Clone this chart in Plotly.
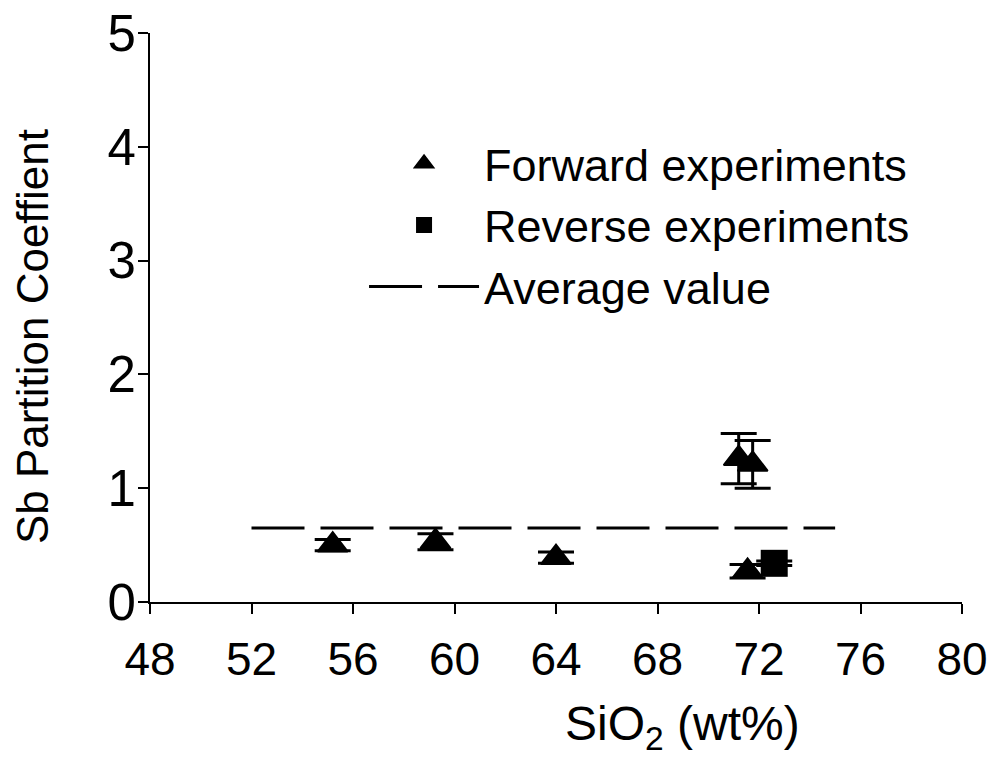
import plotly.graph_objects as go

# Sb partition coefficient vs. melt SiO2 content
forward_sio2 = [55.2, 59.25, 64.0, 71.2, 71.75, 71.55]
forward_d = [0.50, 0.53, 0.39, 1.26, 1.21, 0.27]
forward_err = [0.05, 0.07, 0.05, 0.22, 0.21, 0.06]

reverse_sio2 = [72.6]
reverse_d = [0.34]
reverse_err = [0.02]

avg_sio2 = [52, 75]
avg_d = [0.65, 0.65]

x_ticks = [48, 52, 56, 60, 64, 68, 72, 76, 80]
y_ticks = [0, 1, 2, 3, 4, 5]

FONT = "Liberation Sans, Arial, sans-serif"

fig = go.Figure()

fig.add_trace(go.Scatter(
    x=avg_sio2, y=avg_d, mode="lines", name="Average value",
    line=dict(color="black", width=3, dash="53px,16px"),
    legendrank=3,
))

fig.add_trace(go.Scatter(
    x=forward_sio2, y=forward_d, mode="markers", name="Forward experiments",
    marker=dict(symbol="triangle-up", size=26, color="black",
                line=dict(color="black", width=2)),
    error_y=dict(type="data", array=forward_err, visible=True,
                 color="black", thickness=3, width=18),
    legendrank=1,
))

fig.add_trace(go.Scatter(
    x=reverse_sio2, y=reverse_d, mode="markers", name="Reverse experiments",
    marker=dict(symbol="square", size=27, color="black"),
    error_y=dict(type="data", array=reverse_err, visible=True,
                 color="black", thickness=3, width=18),
    legendrank=2,
))

axis_common = dict(
    showgrid=False, zeroline=False, showline=True, linecolor="black",
    linewidth=2, ticks="outside", ticklen=10, tickwidth=2, tickcolor="black",
    mirror=False, automargin=False,
)

fig.update_xaxes(range=[48, 80], tickvals=x_ticks, ticklabelstandoff=6,
                 tickfont=dict(family=FONT, size=46, color="black"),
                 **axis_common)
fig.update_yaxes(range=[0, 5], tickvals=y_ticks, ticklabelstandoff=-8,
                 tickfont=dict(family=FONT, size=51, color="black"),
                 **axis_common)

fig.add_annotation(
    text="SiO<sub>2</sub> (wt%)", xref="paper", yref="paper",
    x=0.6564, y=-0.22, xanchor="center", yanchor="middle",
    showarrow=False, font=dict(family=FONT, size=48, color="black"),
)
fig.add_annotation(
    text="Sb Partition Coeffient", xref="paper", yref="paper",
    x=-0.1453, y=0.4657, xanchor="center", yanchor="middle", textangle=-90,
    showarrow=False, font=dict(family=FONT, size=44, color="black"),
)

fig.update_layout(
    width=994, height=773,
    margin=dict(l=150, r=32, t=33, b=171, autoexpand=False),
    paper_bgcolor="white", plot_bgcolor="white",
    showlegend=True,
    legend=dict(
        x=0.2636, y=0.8336, xanchor="left", yanchor="top",
        font=dict(family=FONT, size=45, color="black"),
        itemwidth=110, bgcolor="rgba(0,0,0,0)",
    ),
)

fig.write_html("out.html")
